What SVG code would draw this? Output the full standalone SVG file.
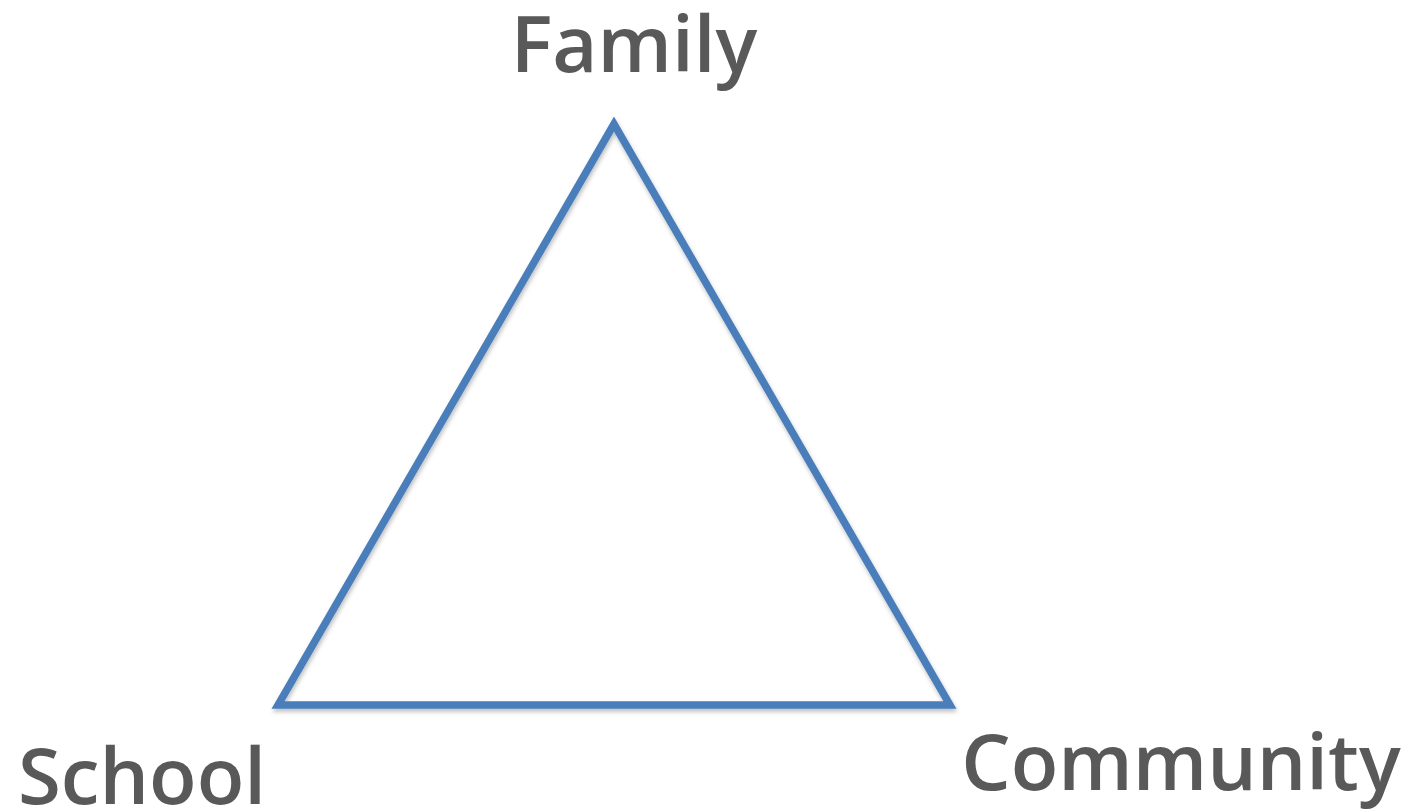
<svg xmlns="http://www.w3.org/2000/svg" width="1412" height="810" viewBox="0 0 1412 810">
<style>
.lbl{font-family:"Open Sans","DejaVu Sans",sans-serif;font-weight:600;font-size:78px;fill:#595959}
.edge{fill:none;stroke:#4a7ebb;stroke-width:7.5;stroke-linejoin:miter}
</style>
<defs>
<filter id="sh" x="-10%" y="-10%" width="120%" height="120%">
<feDropShadow dx="1" dy="3" stdDeviation="2" flood-color="#000" flood-opacity="0.25"/>
</filter>
</defs>
<rect width="1412" height="810" fill="#fff"/>
<g id="connectors">
<polygon class="edge" filter="url(#sh)" points="614,124 278,705 950,705"/>
</g>
<g id="family"><text class="lbl" x="634" y="72" text-anchor="middle">Family</text></g>
<g id="school"><text class="lbl" x="142" y="804" text-anchor="middle">School</text></g>
<g id="community"><text class="lbl" x="1181" y="790" text-anchor="middle">Community</text></g>
</svg>
